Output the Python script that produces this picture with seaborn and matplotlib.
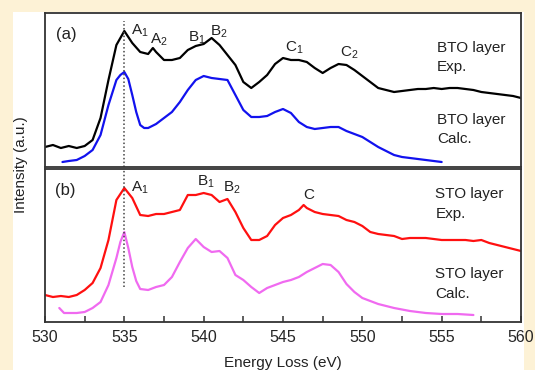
import matplotlib
matplotlib.use("Agg")
import matplotlib.pyplot as plt
import matplotlib.patches as mpatches
from matplotlib.ticker import MultipleLocator
import seaborn as sns
import pandas as pd

sns.set_style("white")
plt.rcParams['font.family'] = ['Liberation Sans', 'DejaVu Sans']
plt.rcParams['mathtext.default'] = 'regular'

# ---- data (arbitrary intensity units) ----
bto_exp_e = [530, 530.5, 531, 531.5, 532, 532.5, 533, 533.5, 534, 534.5, 535, 535.5, 536, 536.5,
             536.8, 537, 537.5, 538, 538.5, 539, 539.5, 540, 540.5, 541, 541.5, 542, 542.5, 543,
             543.5, 544, 544.5, 545, 545.5, 546, 546.5, 547, 547.5, 548, 548.5, 549, 549.5, 550,
             550.5, 551, 551.5, 552, 552.5, 553, 553.5, 554, 554.5, 555, 555.5, 556, 556.5, 557,
             557.5, 558, 558.5, 559, 559.5, 560]
bto_exp_i = [20, 22, 19, 21, 19, 21, 27, 49, 87, 122, 136, 124, 115, 113,
             119, 115, 107, 107, 109, 117, 121, 123, 129, 122, 112, 102, 85, 79,
             85, 92, 103, 109, 107, 107, 105, 99, 94, 99, 103, 102, 97, 91,
             85, 79, 77, 75, 76, 77, 78, 78, 79, 78, 79, 79, 78, 77,
             75, 74, 73, 72, 71, 69]

bto_calc_e = [531.1, 531.5, 532, 532.5, 533, 533.5, 534, 534.5, 534.75, 535, 535.25, 535.5,
              535.75, 536, 536.25, 536.5, 537, 537.5, 538, 538.5, 539, 539.5, 540, 540.5, 541,
              541.5, 542, 542.5, 543, 543.5, 544, 544.5, 545, 545.5, 546, 546.5, 547, 547.5,
              548, 548.5, 549, 549.5, 550, 550.5, 551, 551.5, 552, 552.5, 553, 554, 555]
bto_calc_i = [5, 6, 7, 11, 17, 32, 62, 87, 92, 95, 88, 72,
              55, 42, 39, 39, 43, 49, 55, 65, 77, 87, 91, 89, 88,
              87, 72, 57, 50, 50, 51, 55, 58, 54, 45, 40, 38, 39,
              40, 40, 36, 33, 30, 25, 20, 16, 12, 10, 9, 7, 5]

sto_exp_e = [530, 530.5, 531, 531.5, 532, 532.5, 533, 533.5, 534, 534.5, 535, 535.5, 536, 536.5,
             537, 537.5, 538, 538.5, 539, 539.5, 540, 540.5, 541, 541.5, 542, 542.5, 543, 543.5,
             544, 544.5, 545, 545.5, 546, 546.3, 546.5, 547, 547.5, 548, 548.5, 549, 549.5, 550,
             550.5, 551, 551.5, 552, 552.5, 553, 553.5, 554, 554.5, 555, 555.5, 556, 556.5, 557,
             557.5, 558, 558.5, 559, 559.5, 560]
sto_exp_i = [27, 25, 26, 25, 27, 32, 39, 54, 82, 122, 134, 124, 107, 106,
             108, 108, 110, 112, 127, 127, 129, 127, 120, 123, 110, 94, 82, 82,
             86, 97, 104, 107, 112, 117, 114, 110, 108, 107, 106, 102, 100, 96,
             90, 88, 87, 86, 83, 84, 84, 84, 83, 82, 82, 82, 82, 81,
             82, 79, 77, 75, 73, 71]

sto_calc_e = [530.9, 531.2, 531.5, 532, 532.5, 533, 533.5, 534, 534.5, 534.75, 535, 535.25,
              535.5, 535.75, 536, 536.5, 537, 537.5, 538, 538.5, 539, 539.5, 540, 540.5, 541,
              541.5, 542, 542.5, 543, 543.5, 544, 545, 545.5, 546, 546.5, 547, 547.5, 548,
              548.5, 549, 549.5, 550, 550.5, 551, 552, 553, 554, 555, 556, 557]
sto_calc_i = [14, 9, 9, 9, 10, 14, 20, 37, 64, 80, 90, 74,
              55, 41, 33, 32, 35, 37, 45, 60, 74, 83, 75, 70, 71,
              64, 47, 42, 35, 29, 34, 40, 42, 45, 50, 54, 58, 57,
              50, 38, 30, 24, 21, 18, 14, 11, 9, 8, 8, 7]

x_ticks = [530, 535, 540, 545, 550, 555, 560]

# ---- figure ----
W, H = 535, 370
fig = plt.figure(figsize=(W / 100, H / 100), dpi=100)
fig.patch.set_facecolor('#FDF2D6')
fig.patches.append(mpatches.Rectangle((13 / W, 0), (524 - 13) / W, 1 - 12 / H,
                                      transform=fig.transFigure, facecolor='white',
                                      edgecolor='none', zorder=-5))

def px_axes(l, t, r, b):
    return fig.add_axes([l / W, 1 - b / H, (r - l) / W, (b - t) / H])

ax1 = px_axes(45, 13, 521, 167)
ax2 = px_axes(45, 169, 521, 322)

lw = 1.6
sns.lineplot(x=bto_exp_e, y=bto_exp_i, ax=ax1, color='black', lw=lw)
sns.lineplot(x=bto_calc_e, y=bto_calc_i, ax=ax1, color='#1212EE', lw=lw)
sns.lineplot(x=sto_exp_e, y=sto_exp_i, ax=ax2, color='#FF1010', lw=lw)
sns.lineplot(x=sto_calc_e, y=sto_calc_i, ax=ax2, color='#F06AF0', lw=lw)

for ax in (ax1, ax2):
    ax.set_facecolor('none')
    ax.set_xlim(530, 560)
    ax.set_yticks([])
    ax.set_ylabel('')
    for s in ax.spines.values():
        s.set_color('#333333')
        s.set_linewidth(1.3)
        s.set_visible(True)

ax1.set_ylim(0, 154)
ax2.set_ylim(0, 153)

ax1.set_xticks([])
ax2.set_xticks(x_ticks)
ax2.xaxis.set_minor_locator(MultipleLocator(2.5))
ax2.tick_params(axis='x', which='both', direction='in', length=4, width=1.1,
                color='#333333', bottom=True, labelsize=11.5, pad=6)
ax2.set_xticklabels([str(t) for t in x_ticks])

# dotted reference line at 535 eV
ax1.axvline(535, ymin=0, ymax=0.95, color='#444444', ls=(0, (1, 1.5)), lw=1.1)
ax2.axvline(535, ymin=0.23, ymax=1, color='#444444', ls=(0, (1, 1.5)), lw=1.1)

fs = 11
tk = dict(fontsize=fs, color='#222222')
# panel (a)
ax1.text(530.7, 133, '(a)', fontsize=12, color='#222222', va='center')
ax1.text(535.4, 136, r'A$_1$', **tk, va='center')
ax1.text(536.6, 127, r'A$_2$', **tk, va='center')
ax1.text(539.0, 129, r'B$_1$', **tk, va='center')
ax1.text(540.4, 135, r'B$_2$', **tk, va='center')
ax1.text(545.1, 119, r'C$_1$', **tk, va='center')
ax1.text(548.6, 114, r'C$_2$', **tk, va='center')
ax1.text(554.7, 119, 'BTO layer', **tk, va='center')
ax1.text(554.7, 100, 'Exp.', **tk, va='center')
ax1.text(554.7, 47, 'BTO layer', **tk, va='center')
ax1.text(554.7, 28, 'Calc.', **tk, va='center')
# panel (b)
ax2.text(530.6, 131, '(b)', fontsize=12, color='#222222', va='center')
ax2.text(535.4, 134, r'A$_1$', **tk, va='center')
ax2.text(539.6, 140, r'B$_1$', **tk, va='center')
ax2.text(541.2, 134, r'B$_2$', **tk, va='center')
ax2.text(546.3, 127, 'C', **tk, va='center')
ax2.text(554.6, 128, 'STO layer', **tk, va='center')
ax2.text(554.6, 108, 'Exp.', **tk, va='center')
ax2.text(554.6, 48, 'STO layer', **tk, va='center')
ax2.text(554.6, 28, 'Calc.', **tk, va='center')

ax2.set_xlabel('Energy Loss (eV)', fontsize=11, color='#222222', labelpad=8)
fig.text(21 / W, 1 - 165 / H, 'Intensity (a.u.)', rotation=90, fontsize=11,
         color='#222222', ha='center', va='center')

fig.savefig('out.png', dpi=100, facecolor=fig.get_facecolor())
